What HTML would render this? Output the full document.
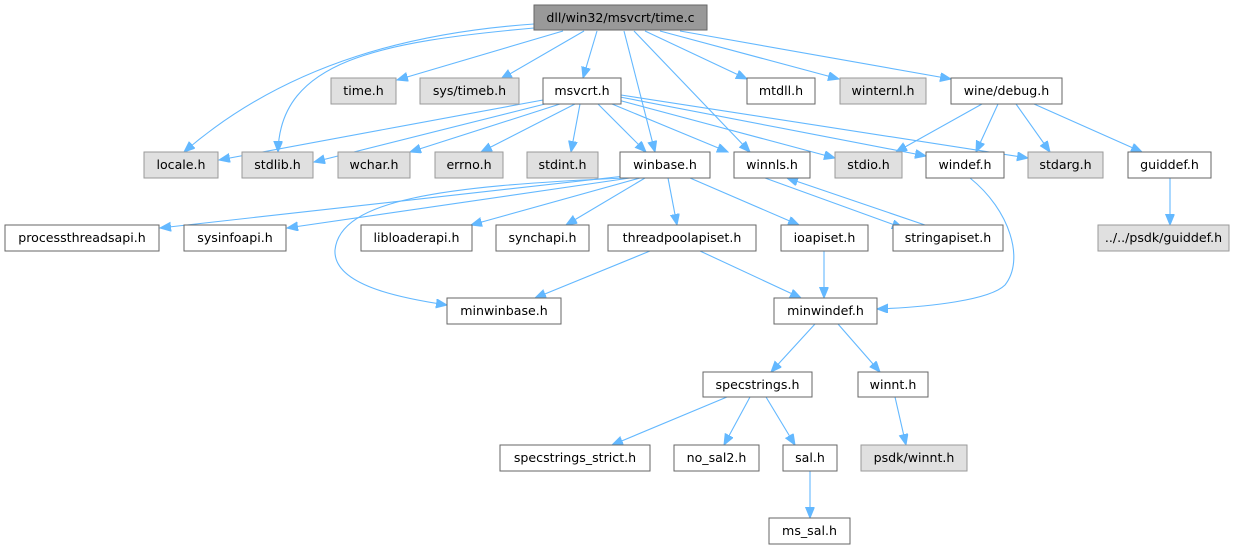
<!DOCTYPE html>
<html><head><meta charset="utf-8"><style>
html,body{margin:0;padding:0;background:#fff;}
svg{display:block;}
text{font-family:"DejaVu Sans","Liberation Sans",sans-serif;font-size:12.6px;fill:#000;}
</style></head><body>
<svg width="1242" height="549" viewBox="0 0 1242 549" xmlns="http://www.w3.org/2000/svg">
<defs>
<marker id="a" markerWidth="12" markerHeight="10" refX="11" refY="4.5" orient="auto" markerUnits="userSpaceOnUse">
<path d="M0,0 L11,4.5 L0,9 z" fill="#63b8ff" stroke="#63b8ff"/>
</marker>
</defs>
<g fill="none" stroke="#63b8ff" stroke-width="1.1" marker-end="url(#a)">
<path d="M534,24 C420,32 290,60 184,152"/>
<path d="M534,28 C380,42 280,60 278,152"/>
<path d="M563,31 L397,80"/>
<path d="M584,31 L501,79"/>
<path d="M597,31 L583,78"/>
<path d="M624,31 L655,152"/>
<path d="M634,31 L750,152"/>
<path d="M645,31 L747,79"/>
<path d="M660,31 L839,79"/>
<path d="M680,31 L951,79"/>
<path d="M543,100 L219,160"/>
<path d="M545,104 L314,162"/>
<path d="M560,104 L410,152"/>
<path d="M575,104 L481,152"/>
<path d="M580,104 L571,152"/>
<path d="M598,104 L646,152"/>
<path d="M612,104 L728,152"/>
<path d="M618,100 L835,158"/>
<path d="M620,97 L926,156"/>
<path d="M621,95 L1028,158"/>
<path d="M982,104 L896,152"/>
<path d="M998,104 L976,152"/>
<path d="M1016,104 L1050,152"/>
<path d="M1034,104 L1142,152"/>
<path d="M1170,178 L1170,225"/>
<path d="M625,176 L160,228"/>
<path d="M630,178 L287,228"/>
<path d="M625,178 C440,186 340,200 335,250 C333,285 400,298 447,305"/>
<path d="M640,178 L471,225"/>
<path d="M645,178 L566,225"/>
<path d="M668,178 L677,225"/>
<path d="M690,178 L799,225"/>
<path d="M765,178 L903,228"/>
<path d="M925,225 L787,178"/>
<path d="M650,251 L535,298"/>
<path d="M700,251 L801,298"/>
<path d="M824,251 L824,298"/>
<path d="M970,178 C1010,210 1025,260 1005,285 C990,300 930,307 877,309"/>
<path d="M815,324 L771,372"/>
<path d="M838,324 L880,372"/>
<path d="M727,397 L612,445"/>
<path d="M750,397 L724,445"/>
<path d="M766,397 L795,445"/>
<path d="M895,397 L906,445"/>
<path d="M810,471 L810,518"/>
</g>
<g stroke-width="1">
<rect x="534" y="5" width="173" height="25" fill="#999" stroke="#666"/><text x="620.5" y="22" text-anchor="middle">dll/win32/msvcrt/time.c</text>
<rect x="331" y="78" width="65" height="26" fill="#e0e0e0" stroke="#999"/><text x="363.5" y="95" text-anchor="middle">time.h</text>
<rect x="420" y="78" width="99" height="26" fill="#e0e0e0" stroke="#999"/><text x="469.5" y="95" text-anchor="middle">sys/timeb.h</text>
<rect x="543" y="78" width="78" height="26" fill="#fff" stroke="#666"/><text x="582" y="95" text-anchor="middle">msvcrt.h</text>
<rect x="747" y="78" width="68" height="26" fill="#fff" stroke="#666"/><text x="781" y="95" text-anchor="middle">mtdll.h</text>
<rect x="840" y="78" width="86" height="26" fill="#e0e0e0" stroke="#999"/><text x="883" y="95" text-anchor="middle">winternl.h</text>
<rect x="951" y="78" width="111" height="26" fill="#fff" stroke="#666"/><text x="1006.5" y="95" text-anchor="middle">wine/debug.h</text>

<rect x="144" y="152" width="74" height="26" fill="#e0e0e0" stroke="#999"/><text x="181" y="169" text-anchor="middle">locale.h</text>
<rect x="242" y="152" width="71" height="26" fill="#e0e0e0" stroke="#999"/><text x="277.5" y="169" text-anchor="middle">stdlib.h</text>
<rect x="338" y="152" width="72" height="26" fill="#e0e0e0" stroke="#999"/><text x="374" y="169" text-anchor="middle">wchar.h</text>
<rect x="435" y="152" width="68" height="26" fill="#e0e0e0" stroke="#999"/><text x="469" y="169" text-anchor="middle">errno.h</text>
<rect x="527" y="152" width="71" height="26" fill="#e0e0e0" stroke="#999"/><text x="562.5" y="169" text-anchor="middle">stdint.h</text>
<rect x="620" y="152" width="90" height="26" fill="#fff" stroke="#666"/><text x="665" y="169" text-anchor="middle">winbase.h</text>
<rect x="734" y="152" width="76" height="26" fill="#fff" stroke="#666"/><text x="772" y="169" text-anchor="middle">winnls.h</text>
<rect x="835" y="152" width="67" height="26" fill="#e0e0e0" stroke="#999"/><text x="868.5" y="169" text-anchor="middle">stdio.h</text>
<rect x="926" y="152" width="78" height="26" fill="#fff" stroke="#666"/><text x="965" y="169" text-anchor="middle">windef.h</text>
<rect x="1028" y="152" width="75" height="26" fill="#e0e0e0" stroke="#999"/><text x="1065.5" y="169" text-anchor="middle">stdarg.h</text>
<rect x="1128" y="152" width="83" height="26" fill="#fff" stroke="#666"/><text x="1169.5" y="169" text-anchor="middle">guiddef.h</text>

<rect x="5" y="225" width="154" height="26" fill="#fff" stroke="#666"/><text x="82" y="242" text-anchor="middle">processthreadsapi.h</text>
<rect x="184" y="225" width="102" height="26" fill="#fff" stroke="#666"/><text x="235" y="242" text-anchor="middle">sysinfoapi.h</text>
<rect x="361" y="225" width="111" height="26" fill="#fff" stroke="#666"/><text x="416.5" y="242" text-anchor="middle">libloaderapi.h</text>
<rect x="496" y="225" width="93" height="26" fill="#fff" stroke="#666"/><text x="542.5" y="242" text-anchor="middle">synchapi.h</text>
<rect x="608" y="225" width="148" height="26" fill="#fff" stroke="#666"/><text x="682" y="242" text-anchor="middle">threadpoolapiset.h</text>
<rect x="781" y="225" width="87" height="26" fill="#fff" stroke="#666"/><text x="824.5" y="242" text-anchor="middle">ioapiset.h</text>
<rect x="893" y="225" width="110" height="26" fill="#fff" stroke="#666"/><text x="948" y="242" text-anchor="middle">stringapiset.h</text>
<rect x="1098" y="225" width="131" height="26" fill="#e0e0e0" stroke="#999"/><text x="1163.5" y="242" text-anchor="middle">../../psdk/guiddef.h</text>

<rect x="447" y="298" width="114" height="26" fill="#fff" stroke="#666"/><text x="504" y="315" text-anchor="middle">minwinbase.h</text>
<rect x="774" y="298" width="103" height="26" fill="#fff" stroke="#666"/><text x="825.5" y="315" text-anchor="middle">minwindef.h</text>

<rect x="703" y="372" width="109" height="25" fill="#fff" stroke="#666"/><text x="757.5" y="389" text-anchor="middle">specstrings.h</text>
<rect x="858" y="372" width="70" height="25" fill="#fff" stroke="#666"/><text x="893" y="389" text-anchor="middle">winnt.h</text>

<rect x="500" y="445" width="150" height="26" fill="#fff" stroke="#666"/><text x="575" y="462" text-anchor="middle">specstrings_strict.h</text>
<rect x="674" y="445" width="85" height="26" fill="#fff" stroke="#666"/><text x="716.5" y="462" text-anchor="middle">no_sal2.h</text>
<rect x="783" y="445" width="54" height="26" fill="#fff" stroke="#666"/><text x="810" y="462" text-anchor="middle">sal.h</text>
<rect x="861" y="445" width="106" height="26" fill="#e0e0e0" stroke="#999"/><text x="914" y="462" text-anchor="middle">psdk/winnt.h</text>

<rect x="769" y="518" width="81" height="26" fill="#fff" stroke="#666"/><text x="809.5" y="535" text-anchor="middle">ms_sal.h</text>
</g>
</svg>
</body></html>
